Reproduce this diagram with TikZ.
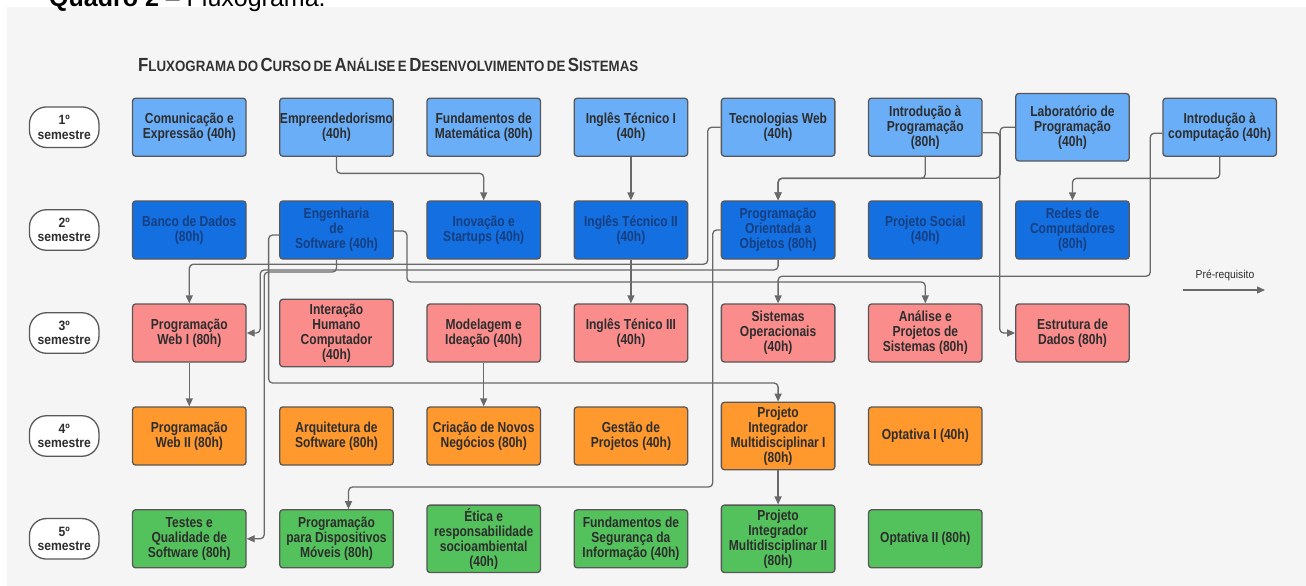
\documentclass[tikz,border=0pt]{standalone}
\usepackage{fontspec}
\usepackage{graphicx}
\setmainfont{Liberation Sans}
\newfontfamily\boxfont[FakeStretch=0.83]{Liberation Sans}
\newfontfamily\semfont[FakeStretch=0.9]{Liberation Sans}
\newfontfamily\titlefont[FakeStretch=0.8]{Liberation Sans}
\usetikzlibrary{arrows.meta,calc}
\definecolor{panel}{RGB}{245,245,245}
\definecolor{bord}{RGB}{88,88,88}
\definecolor{conncol}{RGB}{105,105,105}
\definecolor{txt}{RGB}{45,45,45}
\definecolor{txtblue}{RGB}{22,62,128}
\definecolor{cA}{RGB}{106,174,248}
\definecolor{cB}{RGB}{20,112,224}
\definecolor{cC}{RGB}{250,140,140}
\definecolor{cD}{RGB}{255,152,45}
\definecolor{cE}{RGB}{84,194,92}
\definecolor{titcol}{RGB}{50,50,50}
\newcommand{\tcap}[2]{{\fontsize{19}{19}\selectfont #1}{\fontsize{15}{15}\selectfont #2}}
\begin{document}
\begin{tikzpicture}[x=1pt,y=-1pt,
  box/.style={draw=bord, line width=1.3pt, rounded corners=3pt, minimum width=113.5pt,
    minimum height=58pt, align=center, inner sep=0pt, text=txt,
    font=\boxfont\bfseries\fontsize{14.5}{15}\selectfont},
  tall/.style={minimum height=67.4pt},
  rA/.style={box, fill=cA},
  rB/.style={box, fill=cB, text=txtblue},
  rC/.style={box, fill=cC},
  rD/.style={box, fill=cD},
  rE/.style={box, fill=cE},
  sem/.style={draw=bord, line width=1.3pt, fill=white, rounded corners=17pt,
    minimum width=69.5pt, minimum height=40.5pt, align=center, inner sep=0pt, text=txt,
    font=\semfont\bfseries\fontsize{13.5}{14.5}\selectfont},
  conn/.style={draw=conncol, line width=1.3pt, rounded corners=4pt,
    -{Triangle[length=8pt,width=7pt]}}
]
\useasboundingbox (0,0) rectangle (1306,586);
\fill[white] (0,0) rectangle (1306,586);
\fill[panel] (6.5,7) rectangle (1306,586);
\node[anchor=base west, inner sep=0pt, font=\fontsize{25}{25}\selectfont] (quadro) at (49,6.5) {\textbf{Quadro 2} – Fluxograma.};

\node[anchor=base west, inner sep=0pt, text=titcol, font=\titlefont\bfseries] (title) at (138,71)
 {\resizebox{500pt}{\height}{\tcap{F}{LUXOGRAMA} \tcap{}{DO} \tcap{C}{URSO} \tcap{}{DE} \tcap{A}{NÁLISE} \tcap{}{E} \tcap{D}{ESENVOLVIMENTO} \tcap{}{DE} \tcap{S}{ISTEMAS}}};

% semester labels
\node[sem] (s1) at (64.2,127.2) {1º\\semestre};
\node[sem] (s2) at (64.2,230) {2º\\semestre};
\node[sem] (s3) at (64.2,333) {3º\\semestre};
\node[sem] (s4) at (64.2,436) {4º\\semestre};
\node[sem] (s5) at (64.2,538.8) {5º\\semestre};

% row 1
\node[rA] (e11) at (189.3,127.2) {Comunicação e\\Expressão (40h)};
\node[rA] (e12) at (336.5,127.2) {Empreendedorismo\\(40h)};
\node[rA] (e13) at (483.7,127.2) {Fundamentos de\\Matemática (80h)};
\node[rA] (e14) at (630.9,127.2) {Inglês Técnico I\\(40h)};
\node[rA] (e15) at (778.1,127.2) {Tecnologias Web\\(40h)};
\node[rA] (e16) at (925.3,127.2) {Introdução à\\Programação\\(80h)};
\node[rA,tall] (e17) at (1072.5,127.2) {Laboratório de\\Programação\\(40h)};
\node[rA] (e18) at (1219.7,127.2) {Introdução à\\computação (40h)};

% row 2
\node[rB] (e21) at (189.3,230) {Banco de Dados\\(80h)};
\node[rB] (e22) at (336.5,230) {Engenharia\\de\\Software (40h)};
\node[rB] (e23) at (483.7,230) {Inovação e\\Startups (40h)};
\node[rB] (e24) at (630.9,230) {Inglês Técnico II\\(40h)};
\node[rB] (e25) at (778.1,230) {Programação\\Orientada a\\Objetos (80h)};
\node[rB] (e26) at (925.3,230) {Projeto Social\\(40h)};
\node[rB] (e27) at (1072.5,230) {Redes de\\Computadores\\(80h)};

% row 3
\node[rC] (e31) at (189.3,333) {Programação\\Web I (80h)};
\node[rC,tall] (e32) at (336.5,333) {Interação\\Humano\\Computador\\(40h)};
\node[rC] (e33) at (483.7,333) {Modelagem e\\Ideação (40h)};
\node[rC] (e34) at (630.9,333) {Inglês Ténico III\\(40h)};
\node[rC] (e35) at (778.1,333) {Sistemas\\Operacionais\\(40h)};
\node[rC] (e36) at (925.3,333) {Análise e\\Projetos de\\Sistemas (80h)};
\node[rC] (e37) at (1072.5,333) {Estrutura de\\Dados (80h)};

% row 4
\node[rD] (e41) at (189.3,436) {Programação\\Web II (80h)};
\node[rD] (e42) at (336.5,436) {Arquitetura de\\Software (80h)};
\node[rD] (e43) at (483.7,436) {Criação de Novos\\Negócios (80h)};
\node[rD] (e44) at (630.9,436) {Gestão de\\Projetos (40h)};
\node[rD,tall] (e45) at (778.1,436) {Projeto\\Integrador\\Multidisciplinar I\\(80h)};
\node[rD] (e46) at (925.3,436) {Optativa I (40h)};

% row 5
\node[rE] (e51) at (189.3,538.8) {Testes e\\Qualidade de\\Software (80h)};
\node[rE] (e52) at (336.5,538.8) {Programação\\para Dispositivos\\Móveis (80h)};
\node[rE,tall] (e53) at (483.7,538.8) {Ética e\\responsabilidade\\socioambiental\\(40h)};
\node[rE] (e54) at (630.9,538.8) {Fundamentos de\\Segurança da\\Informação (40h)};
\node[rE,tall] (e55) at (778.1,538.8) {Projeto\\Integrador\\Multidisciplinar II\\(80h)};
\node[rE] (e56) at (925.3,538.8) {Optativa II (80h)};

% connectors
\draw[conn] (e12.south) -- ++(0,16.5) -| (e23.north);
\draw[conn] (e14.south) -- (e24.north);
\draw[conn] (e16.south) -- ++(0,21.5) -| (e25.north);
\draw[conn] (e17.west) -| ++(-15,51) -| (e25.north);
\draw[conn] ($(e16.east)+(0,5.5)$) -- ++(17,0) |- (e37.west);
\draw[conn] (e18.south) -- ++(0,21.5) -| (e27.north);
\draw[conn] ($(e18.west)+(0,6)$) -| ++(-12,143) -| (e35.north);
\draw[conn] (e15.west) -| ++(-13,137) -| (e31.north);
\draw[conn] (e25.west) -| ++(-8,257) -| ($(e52.north)+(12,0)$);
\draw[conn] (e25.south) -- ++(0,10.3) -| ($(e31.east)+(13.5,0)$) -- (e31.east);
\draw[conn] (e22.south) -- ++(0,12.4) -| ($(e51.east)+(17.5,0)$) -- (e51.east);
\draw[conn] ($(e22.west)+(0,5)$) -| ++(-10.5,148) -| (e45.north);
\draw[conn] ($(e22.east)+(0,1)$) -| ++(13,51) -| (e36.north);
\draw[conn] (e24.south) -- (e34.north);
\draw[conn] (e31.south) -- (e41.north);
\draw[conn] (e33.south) -- (e43.north);
\draw[conn] (e45.south) -- (e55.north);

% legend
\node[text=txt, font=\semfont\fontsize{11.5}{12}\selectfont] (leg) at (1225,275) {Pré-requisito};
\coordinate (la) at (1183,290);
\coordinate (lb) at (1265,290);
\draw[conn] (la) -- (lb);
\end{tikzpicture}
\end{document}
